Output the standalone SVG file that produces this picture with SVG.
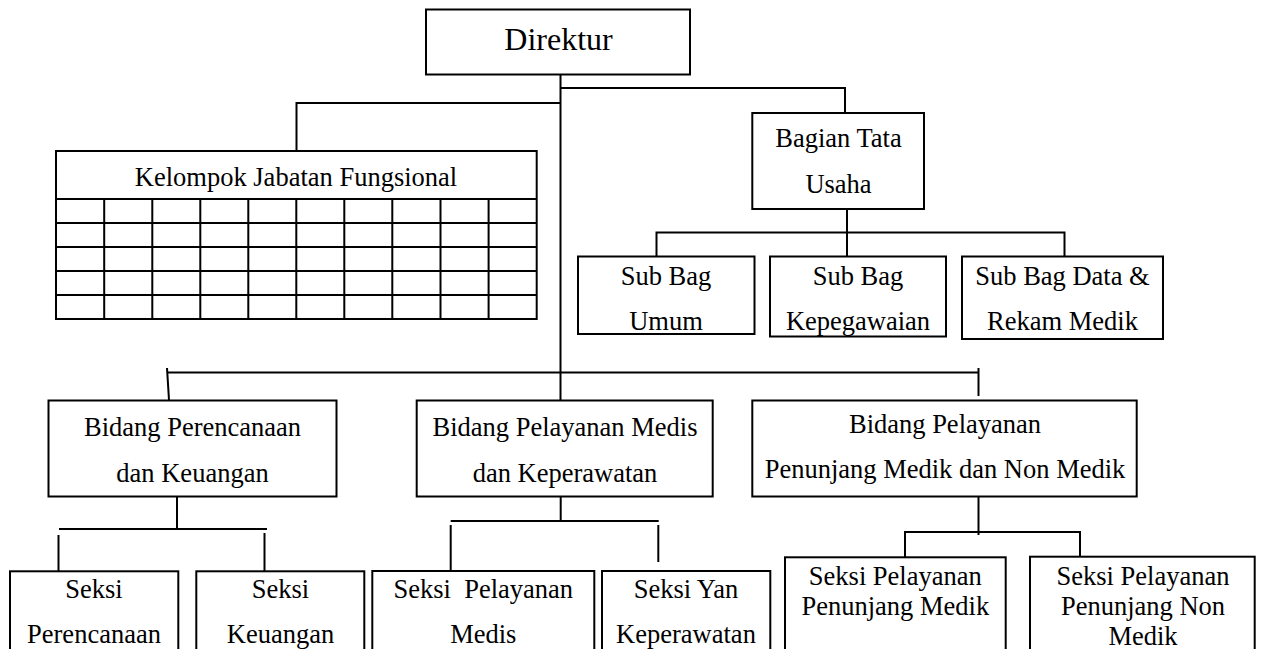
<svg xmlns="http://www.w3.org/2000/svg" width="1262" height="649" viewBox="0 0 1262 649">
<style>
  rect.box { fill: #ffffff; stroke: #000000; stroke-width: 2; }
  .ln { fill: none; stroke: #000000; stroke-width: 2; }
  text { font-family: "Liberation Serif", "Times New Roman", serif; font-size: 26.5px; fill: #000000; text-anchor: middle; }
  text.big { font-size: 32px; }
</style>
<rect x="0" y="0" width="1262" height="649" fill="#ffffff"/>

<g id="connectors" class="ln">
  <path class="ln" d="M560.5 75 V400.5"/>
  <path class="ln" d="M560.5 88 H845 V113"/>
  <path class="ln" d="M560.5 103 H296.5 V151"/>
  <path class="ln" d="M847 209 V256.5"/>
  <path class="ln" d="M656.5 256.5 V232.5 H1064.5 V256.5"/>
  <path class="ln" d="M167 372.5 H978.5"/>
  <path class="ln" d="M167 368 L169 400.5"/>
  <path class="ln" d="M978.5 368 V396"/>
  <path class="ln" d="M177 497 V529"/>
  <path class="ln" d="M59 529 H267"/>
  <path class="ln" d="M58.5 535 V571.3"/>
  <path class="ln" d="M264.5 533 V571.3"/>
  <path class="ln" d="M560.7 494 V521"/>
  <path class="ln" d="M450.7 521 H658.7"/>
  <path class="ln" d="M450.7 525 V571"/>
  <path class="ln" d="M658.3 525 V562"/>
  <path class="ln" d="M978.5 496.7 V535"/>
  <path class="ln" d="M905 557.3 V532 H1080 V556.7"/>
</g>

<g id="direktur">
  <rect class="box" x="426" y="9.5" width="264" height="65"/>
  <text class="big" x="558.5" y="50">Direktur</text>
</g>

<g id="kelompok-jabatan-fungsional">
  <rect class="box" x="56" y="151" width="480.7" height="168"/>
  <text x="296" y="186">Kelompok Jabatan Fungsional</text>
  <path class="ln" d="M56 199 H536.7 M56 223 H536.7 M56 247 H536.7 M56 271 H536.7 M56 295 H536.7
    M104.2 199 V319 M152.3 199 V319 M200.3 199 V319 M248.3 199 V319 M296.3 199 V319
    M344.3 199 V319 M392.3 199 V319 M440.5 199 V319 M488.6 199 V319"/>
</g>

<g id="bagian-tata-usaha">
  <rect class="box" x="752.3" y="113" width="171.7" height="96"/>
  <text x="838.5" y="147">Bagian Tata</text>
  <text x="838.5" y="193">Usaha</text>
</g>

<g id="sub-bag-umum">
  <rect class="box" x="578" y="256.5" width="176.5" height="77.5"/>
  <text x="666" y="285">Sub Bag</text>
  <text x="666" y="330">Umum</text>
</g>

<g id="sub-bag-kepegawaian">
  <rect class="box" x="770" y="256.5" width="176" height="80"/>
  <text x="858" y="285">Sub Bag</text>
  <text x="858" y="330">Kepegawaian</text>
</g>

<g id="sub-bag-data-rekam-medik">
  <rect class="box" x="962" y="256.5" width="201" height="82.5"/>
  <text x="1062.5" y="285">Sub Bag Data &amp;</text>
  <text x="1062.5" y="330">Rekam Medik</text>
</g>

<g id="bidang-perencanaan">
  <rect class="box" x="48.5" y="400.5" width="288" height="96"/>
  <text x="192.5" y="436">Bidang Perencanaan</text>
  <text x="192.5" y="482">dan Keuangan</text>
</g>

<g id="bidang-pelayanan-medis">
  <rect class="box" x="416.7" y="400.5" width="296" height="96"/>
  <text x="565" y="436">Bidang Pelayanan Medis</text>
  <text x="565" y="482">dan Keperawatan</text>
</g>

<g id="bidang-penunjang">
  <rect class="box" x="752.3" y="400.5" width="384.4" height="96"/>
  <text x="945" y="433">Bidang Pelayanan</text>
  <text x="945" y="478">Penunjang Medik dan Non Medik</text>
</g>

<g id="seksi-perencanaan">
  <rect class="box" x="10" y="571.3" width="168.3" height="100"/>
  <text x="94" y="598">Seksi</text>
  <text x="94" y="643">Perencanaan</text>
</g>

<g id="seksi-keuangan">
  <rect class="box" x="196.3" y="571.3" width="168" height="100"/>
  <text x="280.5" y="598">Seksi</text>
  <text x="280.5" y="643">Keuangan</text>
</g>

<g id="seksi-pelayanan-medis">
  <rect class="box" x="372.3" y="571" width="222" height="100"/>
  <text x="483.3" y="598" xml:space="preserve">Seksi  Pelayanan</text>
  <text x="483.3" y="643">Medis</text>
</g>

<g id="seksi-yan-keperawatan">
  <rect class="box" x="602" y="571" width="168.3" height="100"/>
  <text x="686" y="598">Seksi Yan</text>
  <text x="686" y="643">Keperawatan</text>
</g>

<g id="seksi-penunjang-medik">
  <rect class="box" x="785" y="557.3" width="220.7" height="110"/>
  <text x="895.3" y="585">Seksi Pelayanan</text>
  <text x="895.3" y="615">Penunjang Medik</text>
</g>

<g id="seksi-penunjang-non-medik">
  <rect class="box" x="1030" y="556.7" width="224.7" height="110"/>
  <text x="1143" y="585">Seksi Pelayanan</text>
  <text x="1143" y="615">Penunjang Non</text>
  <text x="1143" y="645">Medik</text>
</g>
</svg>
